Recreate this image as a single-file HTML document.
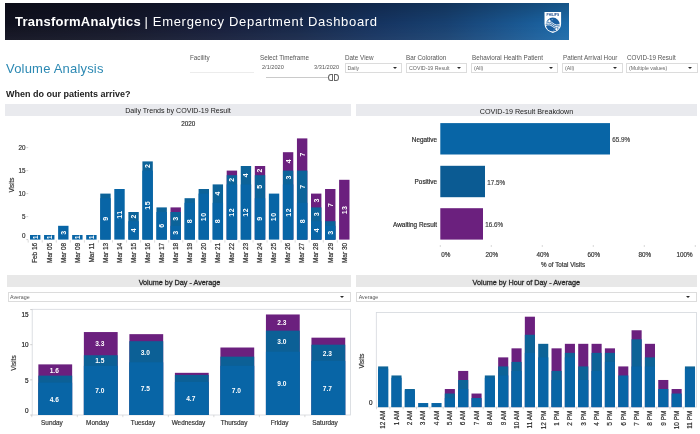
<!DOCTYPE html><html><head><meta charset="utf-8"><title>Emergency Department Dashboard</title><style>
html,body{margin:0;padding:0;background:#fff}
body{width:700px;height:434px;position:relative;overflow:hidden;font-family:"Liberation Sans", sans-serif}
.t{position:absolute;white-space:nowrap}
.bar{position:absolute;background:#e9eaee}
.dd{position:absolute;box-sizing:border-box;border:1px solid #dcdcdc;background:#fff}
.dd i{position:absolute;right:4.3px;top:3.3px;width:0;height:0;border-left:2.1px solid transparent;border-right:2.1px solid transparent;border-top:2.8px solid #2a2a2a}
svg{position:absolute;left:0;top:0}
svg text{font-family:"Liberation Sans", sans-serif}
#root{position:absolute;left:0;top:0;width:700px;height:434px;will-change:transform;transform:translateZ(0)}
</style></head><body><div id="root">
<div style="position:absolute;left:5px;top:3.2px;width:564.3px;height:37.2px;background:linear-gradient(180deg,rgba(0,0,0,.2) 0%,rgba(0,0,0,0) 55%,rgba(255,255,255,.05) 100%),linear-gradient(90deg,#0f101e 0%,#131628 20%,#151d3a 38%,#162749 52%,#153360 66%,#174070 78%,#19528a 88%,#1a5f9c 95%,#1b6aa9 100%)"></div>
<div class="t" style="left:15.00px;top:15.00px;font-size:13px;line-height:13px;color:#fff;font-weight:bold;letter-spacing:0.25px;">TransformAnalytics</div>
<div class="t" style="left:144.50px;top:15.00px;font-size:13px;line-height:13px;color:#fff;font-weight:normal;letter-spacing:0.68px;">| Emergency Department Dashboard</div>
<svg width="700" height="434" viewBox="0 0 700 434" style="pointer-events:none"><g transform="translate(-0.3 0.5)">
<path d="M544.8 11.5h16.6v11.6c0 5-3.5 8-8.3 9.4c-4.8-1.4-8.3-4.4-8.3-9.4z" fill="#fff"/>
<circle cx="553.1" cy="24.1" r="7" fill="#1a5fa2"/>
<path d="M546.2 23.1c2.3-1.7 4.5-1.7 6.9-0.3s4.6 1.4 6.9-0.3M546.2 24.7c2.3-1.7 4.5-1.7 6.9-0.3s4.6 1.4 6.9-0.3M546.2 26.3c2.3-1.7 4.5-1.7 6.9-0.3s4.6 1.4 6.9-0.3" stroke="#fff" stroke-width="0.85" fill="none" transform="rotate(10 553.1 24.4)"/>
<path d="M549.7 18.5L550.2320000000001 19.868L551.6 20.4L550.2320000000001 20.932L549.7 22.299999999999997L549.168 20.932L547.8000000000001 20.4L549.168 19.868z" fill="#fff"/>
<path d="M556.7 26.8L557.2320000000001 28.168L558.6 28.7L557.2320000000001 29.232L556.7 30.599999999999998L556.168 29.232L554.8000000000001 28.7L556.168 28.168z" fill="#fff"/>
<circle cx="552.4" cy="19.3" r="0.45" fill="#fff"/><circle cx="554.2" cy="29.6" r="0.45" fill="#fff"/>
<text x="553.1" y="15.7" font-size="3.4" font-weight="bold" fill="#17488c" text-anchor="middle" textLength="12.6" lengthAdjust="spacingAndGlyphs">PHILIPS</text>
</g></svg>
<div class="t" style="left:6.00px;top:61.50px;font-size:13px;line-height:13px;color:#2c89b3;font-weight:normal;letter-spacing:0.2px;">Volume Analysis</div>
<div class="t" style="left:6.00px;top:89.88px;font-size:9px;line-height:9px;color:#222;font-weight:bold;letter-spacing:0px;">When do our patients arrive?</div>
<div class="t" style="left:190.00px;top:55.07px;font-size:6.3px;line-height:6.3px;color:#555;font-weight:normal;letter-spacing:0px;">Facility</div>
<div style="position:absolute;left:190px;top:72.3px;width:64px;height:1px;background:#ececec"></div>
<div class="t" style="left:260.00px;top:55.07px;font-size:6.3px;line-height:6.3px;color:#555;font-weight:normal;letter-spacing:0px;">Select Timeframe</div>
<div class="t" style="left:262.00px;top:64.56px;font-size:5.6px;line-height:5.6px;color:#555;font-weight:normal;letter-spacing:0px;">2/1/2020</div>
<div class="t" style="left:-61.00px;width:400px;text-align:right;top:64.56px;font-size:5.6px;line-height:5.6px;color:#555;font-weight:normal;letter-spacing:0px;">3/31/2020</div>
<div style="position:absolute;left:266px;top:77px;width:62px;height:1px;background:#cacaca"></div>
<div style="position:absolute;left:327.6px;top:73.9px;width:5.4px;height:6.8px;border:0.8px solid #666;border-radius:60% 0 0 60%;box-sizing:border-box;background:#fff"></div>
<div style="position:absolute;left:333.8px;top:73.9px;width:5.4px;height:6.8px;border:0.8px solid #666;border-radius:0 60% 60% 0;box-sizing:border-box;background:#fff"></div>
<div class="t" style="left:345.00px;top:55.07px;font-size:6.3px;line-height:6.3px;color:#555;font-weight:normal;letter-spacing:0px;">Date View</div>
<div class="dd" style="left:344.7px;top:62.6px;width:57.6px;height:10.6px"><i></i></div>
<div class="t" style="left:347.50px;top:65.56px;font-size:5.25px;line-height:5.25px;color:#666;font-weight:normal;letter-spacing:0px;">Daily</div>
<div class="t" style="left:406.00px;top:55.07px;font-size:6.3px;line-height:6.3px;color:#555;font-weight:normal;letter-spacing:0px;">Bar Coloration</div>
<div class="dd" style="left:406.2px;top:62.6px;width:60.6px;height:10.6px"><i></i></div>
<div class="t" style="left:409.00px;top:65.56px;font-size:5.25px;line-height:5.25px;color:#666;font-weight:normal;letter-spacing:0px;">COVID-19 Result</div>
<div class="t" style="left:472.00px;top:55.07px;font-size:6.3px;line-height:6.3px;color:#555;font-weight:normal;letter-spacing:0px;">Behavioral Health Patient</div>
<div class="dd" style="left:471.2px;top:62.6px;width:87.1px;height:10.6px"><i></i></div>
<div class="t" style="left:474.00px;top:65.56px;font-size:5.25px;line-height:5.25px;color:#666;font-weight:normal;letter-spacing:0px;">(All)</div>
<div class="t" style="left:563.00px;top:55.07px;font-size:6.3px;line-height:6.3px;color:#555;font-weight:normal;letter-spacing:0px;">Patient Arrival Hour</div>
<div class="dd" style="left:562.2px;top:62.6px;width:60.6px;height:10.6px"><i></i></div>
<div class="t" style="left:565.00px;top:65.56px;font-size:5.25px;line-height:5.25px;color:#666;font-weight:normal;letter-spacing:0px;">(All)</div>
<div class="t" style="left:627.00px;top:55.07px;font-size:6.3px;line-height:6.3px;color:#555;font-weight:normal;letter-spacing:0px;">COVID-19 Result</div>
<div class="dd" style="left:626.2px;top:62.6px;width:71.6px;height:10.6px"><i></i></div>
<div class="t" style="left:629.00px;top:65.56px;font-size:5.25px;line-height:5.25px;color:#666;font-weight:normal;letter-spacing:0px;">(Multiple values)</div>
<div class="bar" style="left:5px;top:104px;width:346px;height:12px"></div>
<div class="bar" style="left:355.6px;top:104px;width:341.4px;height:12px"></div>
<div class="bar" style="left:7.3px;top:275px;width:343.7px;height:12.2px;background:#e8e8e8"></div>
<div class="bar" style="left:355.7px;top:275px;width:341.6px;height:12.2px;background:#e8e8e8"></div>
<div class="t" style="left:-22.00px;width:400px;text-align:center;top:107.99px;font-size:7.1px;line-height:7.1px;color:#222;font-weight:normal;letter-spacing:0px;">Daily Trends by COVID-19 Result</div>
<div class="t" style="left:326.50px;width:400px;text-align:center;top:107.91px;font-size:7.2px;line-height:7.2px;color:#222;font-weight:normal;letter-spacing:0px;">COVID-19 Result Breakdown</div>
<div class="t" style="left:-20.50px;width:400px;text-align:center;top:278.86px;font-size:7.25px;line-height:7.25px;color:#2a2a2a;font-weight:normal;letter-spacing:0px;-webkit-text-stroke:0.3px #2a2a2a;">Volume by Day - Average</div>
<div class="t" style="left:326.30px;width:400px;text-align:center;top:278.86px;font-size:7.25px;line-height:7.25px;color:#2a2a2a;font-weight:normal;letter-spacing:0px;-webkit-text-stroke:0.3px #2a2a2a;">Volume by Hour of Day - Average</div>
<div class="dd" style="left:7.5px;top:292px;width:343.3px;height:10.4px"><i style="right:5.6px"></i></div>
<div class="dd" style="left:356.2px;top:292px;width:340.6px;height:10.4px"><i style="right:5.3px"></i></div>
<div class="t" style="left:10.00px;top:294.71px;font-size:5.3px;line-height:5.3px;color:#555;font-weight:normal;letter-spacing:0px;">Average</div>
<div class="t" style="left:358.70px;top:294.71px;font-size:5.3px;line-height:5.3px;color:#555;font-weight:normal;letter-spacing:0px;">Average</div>
<svg width="700" height="434" viewBox="0 0 700 434">
<text x="188.30" y="125.60" font-size="6.3" fill="#333" stroke="#333" stroke-width="0.18" text-anchor="middle" font-weight="normal">2020</text>
<text x="25.60" y="238.00" font-size="6.3" fill="#333" stroke="#333" stroke-width="0.18" text-anchor="end" font-weight="normal">0</text>
<line x1="26.40" y1="239.60" x2="28.20" y2="239.60" stroke="#bbb" stroke-width="0.7"/>
<text x="25.60" y="218.80" font-size="6.3" fill="#333" stroke="#333" stroke-width="0.18" text-anchor="end" font-weight="normal">5</text>
<line x1="26.40" y1="216.60" x2="28.20" y2="216.60" stroke="#bbb" stroke-width="0.7"/>
<text x="25.60" y="195.80" font-size="6.3" fill="#333" stroke="#333" stroke-width="0.18" text-anchor="end" font-weight="normal">10</text>
<line x1="26.40" y1="193.60" x2="28.20" y2="193.60" stroke="#bbb" stroke-width="0.7"/>
<text x="25.60" y="172.80" font-size="6.3" fill="#333" stroke="#333" stroke-width="0.18" text-anchor="end" font-weight="normal">15</text>
<line x1="26.40" y1="170.60" x2="28.20" y2="170.60" stroke="#bbb" stroke-width="0.7"/>
<text x="25.60" y="149.80" font-size="6.3" fill="#333" stroke="#333" stroke-width="0.18" text-anchor="end" font-weight="normal">20</text>
<line x1="26.40" y1="147.60" x2="28.20" y2="147.60" stroke="#bbb" stroke-width="0.7"/>
<text x="13.60" y="185.00" font-size="6.3" fill="#333" stroke="#333" stroke-width="0.18" text-anchor="middle" font-weight="normal" transform="rotate(-90 13.60 185.00)">Visits</text>
<rect x="30.00" y="235.00" width="10.40" height="4.60" fill="#0865a6"/>
<text x="37.65" y="237.30" font-size="7.0" fill="#fff" text-anchor="middle" font-weight="bold" transform="rotate(-90 37.65 237.30)">1</text>
<line x1="28.20" y1="240.20" x2="28.20" y2="242.60" stroke="#ccc" stroke-width="0.7"/>
<text x="37.50" y="242.80" font-size="6.5" fill="#2a2a2a" stroke="#2a2a2a" stroke-width="0.18" text-anchor="end" font-weight="normal" transform="rotate(-90 37.50 242.80)">Feb 16</text>
<rect x="44.05" y="235.00" width="10.40" height="4.60" fill="#0865a6"/>
<text x="51.70" y="237.30" font-size="7.0" fill="#fff" text-anchor="middle" font-weight="bold" transform="rotate(-90 51.70 237.30)">1</text>
<line x1="42.25" y1="240.20" x2="42.25" y2="242.60" stroke="#ccc" stroke-width="0.7"/>
<text x="51.55" y="242.80" font-size="6.5" fill="#2a2a2a" stroke="#2a2a2a" stroke-width="0.18" text-anchor="end" font-weight="normal" transform="rotate(-90 51.55 242.80)">Mar 05</text>
<rect x="58.10" y="225.80" width="10.40" height="13.80" fill="#0865a6"/>
<text x="65.75" y="232.70" font-size="7.0" fill="#fff" text-anchor="middle" font-weight="bold" transform="rotate(-90 65.75 232.70)">3</text>
<line x1="56.30" y1="240.20" x2="56.30" y2="242.60" stroke="#ccc" stroke-width="0.7"/>
<text x="65.60" y="242.80" font-size="6.5" fill="#2a2a2a" stroke="#2a2a2a" stroke-width="0.18" text-anchor="end" font-weight="normal" transform="rotate(-90 65.60 242.80)">Mar 08</text>
<rect x="72.15" y="235.00" width="10.40" height="4.60" fill="#0865a6"/>
<text x="79.80" y="237.30" font-size="7.0" fill="#fff" text-anchor="middle" font-weight="bold" transform="rotate(-90 79.80 237.30)">1</text>
<line x1="70.35" y1="240.20" x2="70.35" y2="242.60" stroke="#ccc" stroke-width="0.7"/>
<text x="79.65" y="242.80" font-size="6.5" fill="#2a2a2a" stroke="#2a2a2a" stroke-width="0.18" text-anchor="end" font-weight="normal" transform="rotate(-90 79.65 242.80)">Mar 09</text>
<rect x="86.20" y="235.00" width="10.40" height="4.60" fill="#0865a6"/>
<text x="93.85" y="237.30" font-size="7.0" fill="#fff" text-anchor="middle" font-weight="bold" transform="rotate(-90 93.85 237.30)">1</text>
<line x1="84.40" y1="240.20" x2="84.40" y2="242.60" stroke="#ccc" stroke-width="0.7"/>
<text x="93.70" y="242.80" font-size="6.5" fill="#2a2a2a" stroke="#2a2a2a" stroke-width="0.18" text-anchor="end" font-weight="normal" transform="rotate(-90 93.70 242.80)">Mar 11</text>
<rect x="100.25" y="193.60" width="10.40" height="46.00" fill="#0c6399"/>
<rect x="100.25" y="198.20" width="10.40" height="41.40" fill="#0865a6"/>
<text x="107.90" y="218.90" font-size="7.0" fill="#fff" text-anchor="middle" font-weight="bold" transform="rotate(-90 107.90 218.90)">9</text>
<line x1="98.45" y1="240.20" x2="98.45" y2="242.60" stroke="#ccc" stroke-width="0.7"/>
<text x="107.75" y="242.80" font-size="6.5" fill="#2a2a2a" stroke="#2a2a2a" stroke-width="0.18" text-anchor="end" font-weight="normal" transform="rotate(-90 107.75 242.80)">Mar 13</text>
<rect x="114.30" y="189.00" width="10.40" height="50.60" fill="#0865a6"/>
<text x="121.95" y="214.55" font-size="7.0" fill="#fff" letter-spacing="0.5" text-anchor="middle" font-weight="bold" transform="rotate(-90 121.95 214.55)">11</text>
<line x1="112.50" y1="240.20" x2="112.50" y2="242.60" stroke="#ccc" stroke-width="0.7"/>
<text x="121.80" y="242.80" font-size="6.5" fill="#2a2a2a" stroke="#2a2a2a" stroke-width="0.18" text-anchor="end" font-weight="normal" transform="rotate(-90 121.80 242.80)">Mar 14</text>
<rect x="128.35" y="212.00" width="10.40" height="27.60" fill="#0c6399"/>
<rect x="128.35" y="221.20" width="10.40" height="18.40" fill="#0865a6"/>
<text x="136.00" y="230.40" font-size="7.0" fill="#fff" text-anchor="middle" font-weight="bold" transform="rotate(-90 136.00 230.40)">4</text>
<text x="136.00" y="216.60" font-size="7.0" fill="#fff" text-anchor="middle" font-weight="bold" transform="rotate(-90 136.00 216.60)">2</text>
<line x1="126.55" y1="240.20" x2="126.55" y2="242.60" stroke="#ccc" stroke-width="0.7"/>
<text x="135.85" y="242.80" font-size="6.5" fill="#2a2a2a" stroke="#2a2a2a" stroke-width="0.18" text-anchor="end" font-weight="normal" transform="rotate(-90 135.85 242.80)">Mar 15</text>
<rect x="142.40" y="161.40" width="10.40" height="78.20" fill="#0c6399"/>
<rect x="142.40" y="170.60" width="10.40" height="69.00" fill="#0865a6"/>
<text x="150.05" y="205.35" font-size="7.0" fill="#fff" letter-spacing="0.5" text-anchor="middle" font-weight="bold" transform="rotate(-90 150.05 205.35)">15</text>
<text x="150.05" y="166.00" font-size="7.0" fill="#fff" text-anchor="middle" font-weight="bold" transform="rotate(-90 150.05 166.00)">2</text>
<line x1="140.60" y1="240.20" x2="140.60" y2="242.60" stroke="#ccc" stroke-width="0.7"/>
<text x="149.90" y="242.80" font-size="6.5" fill="#2a2a2a" stroke="#2a2a2a" stroke-width="0.18" text-anchor="end" font-weight="normal" transform="rotate(-90 149.90 242.80)">Mar 16</text>
<rect x="156.45" y="207.40" width="10.40" height="32.20" fill="#0c6399"/>
<rect x="156.45" y="212.00" width="10.40" height="27.60" fill="#0865a6"/>
<text x="164.10" y="225.80" font-size="7.0" fill="#fff" text-anchor="middle" font-weight="bold" transform="rotate(-90 164.10 225.80)">6</text>
<line x1="154.65" y1="240.20" x2="154.65" y2="242.60" stroke="#ccc" stroke-width="0.7"/>
<text x="163.95" y="242.80" font-size="6.5" fill="#2a2a2a" stroke="#2a2a2a" stroke-width="0.18" text-anchor="end" font-weight="normal" transform="rotate(-90 163.95 242.80)">Mar 17</text>
<rect x="170.50" y="207.40" width="10.40" height="32.20" fill="#6b207e"/>
<rect x="170.50" y="212.00" width="10.40" height="27.60" fill="#0c6399"/>
<rect x="170.50" y="225.80" width="10.40" height="13.80" fill="#0865a6"/>
<text x="178.15" y="232.70" font-size="7.0" fill="#fff" text-anchor="middle" font-weight="bold" transform="rotate(-90 178.15 232.70)">3</text>
<text x="178.15" y="218.90" font-size="7.0" fill="#fff" text-anchor="middle" font-weight="bold" transform="rotate(-90 178.15 218.90)">3</text>
<line x1="168.70" y1="240.20" x2="168.70" y2="242.60" stroke="#ccc" stroke-width="0.7"/>
<text x="178.00" y="242.80" font-size="6.5" fill="#2a2a2a" stroke="#2a2a2a" stroke-width="0.18" text-anchor="end" font-weight="normal" transform="rotate(-90 178.00 242.80)">Mar 18</text>
<rect x="184.55" y="198.20" width="10.40" height="41.40" fill="#0c6399"/>
<rect x="184.55" y="202.80" width="10.40" height="36.80" fill="#0865a6"/>
<text x="192.20" y="221.20" font-size="7.0" fill="#fff" text-anchor="middle" font-weight="bold" transform="rotate(-90 192.20 221.20)">8</text>
<line x1="182.75" y1="240.20" x2="182.75" y2="242.60" stroke="#ccc" stroke-width="0.7"/>
<text x="192.05" y="242.80" font-size="6.5" fill="#2a2a2a" stroke="#2a2a2a" stroke-width="0.18" text-anchor="end" font-weight="normal" transform="rotate(-90 192.05 242.80)">Mar 19</text>
<rect x="198.60" y="189.00" width="10.40" height="50.60" fill="#0c6399"/>
<rect x="198.60" y="193.60" width="10.40" height="46.00" fill="#0865a6"/>
<text x="206.25" y="216.85" font-size="7.0" fill="#fff" letter-spacing="0.5" text-anchor="middle" font-weight="bold" transform="rotate(-90 206.25 216.85)">10</text>
<line x1="196.80" y1="240.20" x2="196.80" y2="242.60" stroke="#ccc" stroke-width="0.7"/>
<text x="206.10" y="242.80" font-size="6.5" fill="#2a2a2a" stroke="#2a2a2a" stroke-width="0.18" text-anchor="end" font-weight="normal" transform="rotate(-90 206.10 242.80)">Mar 20</text>
<rect x="212.65" y="184.40" width="10.40" height="55.20" fill="#0c6399"/>
<rect x="212.65" y="202.80" width="10.40" height="36.80" fill="#0865a6"/>
<text x="220.30" y="221.20" font-size="7.0" fill="#fff" text-anchor="middle" font-weight="bold" transform="rotate(-90 220.30 221.20)">8</text>
<text x="220.30" y="193.60" font-size="7.0" fill="#fff" text-anchor="middle" font-weight="bold" transform="rotate(-90 220.30 193.60)">4</text>
<line x1="210.85" y1="240.20" x2="210.85" y2="242.60" stroke="#ccc" stroke-width="0.7"/>
<text x="220.15" y="242.80" font-size="6.5" fill="#2a2a2a" stroke="#2a2a2a" stroke-width="0.18" text-anchor="end" font-weight="normal" transform="rotate(-90 220.15 242.80)">Mar 21</text>
<rect x="226.70" y="170.60" width="10.40" height="69.00" fill="#6b207e"/>
<rect x="226.70" y="175.20" width="10.40" height="64.40" fill="#0c6399"/>
<rect x="226.70" y="184.40" width="10.40" height="55.20" fill="#0865a6"/>
<text x="234.35" y="212.25" font-size="7.0" fill="#fff" letter-spacing="0.5" text-anchor="middle" font-weight="bold" transform="rotate(-90 234.35 212.25)">12</text>
<text x="234.35" y="179.80" font-size="7.0" fill="#fff" text-anchor="middle" font-weight="bold" transform="rotate(-90 234.35 179.80)">2</text>
<line x1="224.90" y1="240.20" x2="224.90" y2="242.60" stroke="#ccc" stroke-width="0.7"/>
<text x="234.20" y="242.80" font-size="6.5" fill="#2a2a2a" stroke="#2a2a2a" stroke-width="0.18" text-anchor="end" font-weight="normal" transform="rotate(-90 234.20 242.80)">Mar 22</text>
<rect x="240.75" y="166.00" width="10.40" height="73.60" fill="#0c6399"/>
<rect x="240.75" y="184.40" width="10.40" height="55.20" fill="#0865a6"/>
<text x="248.40" y="212.25" font-size="7.0" fill="#fff" letter-spacing="0.5" text-anchor="middle" font-weight="bold" transform="rotate(-90 248.40 212.25)">12</text>
<text x="248.40" y="175.20" font-size="7.0" fill="#fff" text-anchor="middle" font-weight="bold" transform="rotate(-90 248.40 175.20)">4</text>
<line x1="238.95" y1="240.20" x2="238.95" y2="242.60" stroke="#ccc" stroke-width="0.7"/>
<text x="248.25" y="242.80" font-size="6.5" fill="#2a2a2a" stroke="#2a2a2a" stroke-width="0.18" text-anchor="end" font-weight="normal" transform="rotate(-90 248.25 242.80)">Mar 23</text>
<rect x="254.80" y="166.00" width="10.40" height="73.60" fill="#6b207e"/>
<rect x="254.80" y="175.20" width="10.40" height="64.40" fill="#0c6399"/>
<rect x="254.80" y="198.20" width="10.40" height="41.40" fill="#0865a6"/>
<text x="262.45" y="218.90" font-size="7.0" fill="#fff" text-anchor="middle" font-weight="bold" transform="rotate(-90 262.45 218.90)">9</text>
<text x="262.45" y="186.70" font-size="7.0" fill="#fff" text-anchor="middle" font-weight="bold" transform="rotate(-90 262.45 186.70)">5</text>
<text x="262.45" y="170.60" font-size="7.0" fill="#fff" text-anchor="middle" font-weight="bold" transform="rotate(-90 262.45 170.60)">2</text>
<line x1="253.00" y1="240.20" x2="253.00" y2="242.60" stroke="#ccc" stroke-width="0.7"/>
<text x="262.30" y="242.80" font-size="6.5" fill="#2a2a2a" stroke="#2a2a2a" stroke-width="0.18" text-anchor="end" font-weight="normal" transform="rotate(-90 262.30 242.80)">Mar 24</text>
<rect x="268.85" y="193.60" width="10.40" height="46.00" fill="#0865a6"/>
<text x="276.50" y="216.85" font-size="7.0" fill="#fff" letter-spacing="0.5" text-anchor="middle" font-weight="bold" transform="rotate(-90 276.50 216.85)">10</text>
<line x1="267.05" y1="240.20" x2="267.05" y2="242.60" stroke="#ccc" stroke-width="0.7"/>
<text x="276.35" y="242.80" font-size="6.5" fill="#2a2a2a" stroke="#2a2a2a" stroke-width="0.18" text-anchor="end" font-weight="normal" transform="rotate(-90 276.35 242.80)">Mar 25</text>
<rect x="282.90" y="152.20" width="10.40" height="87.40" fill="#6b207e"/>
<rect x="282.90" y="170.60" width="10.40" height="69.00" fill="#0c6399"/>
<rect x="282.90" y="184.40" width="10.40" height="55.20" fill="#0865a6"/>
<text x="290.55" y="212.25" font-size="7.0" fill="#fff" letter-spacing="0.5" text-anchor="middle" font-weight="bold" transform="rotate(-90 290.55 212.25)">12</text>
<text x="290.55" y="177.50" font-size="7.0" fill="#fff" text-anchor="middle" font-weight="bold" transform="rotate(-90 290.55 177.50)">3</text>
<text x="290.55" y="161.40" font-size="7.0" fill="#fff" text-anchor="middle" font-weight="bold" transform="rotate(-90 290.55 161.40)">4</text>
<line x1="281.10" y1="240.20" x2="281.10" y2="242.60" stroke="#ccc" stroke-width="0.7"/>
<text x="290.40" y="242.80" font-size="6.5" fill="#2a2a2a" stroke="#2a2a2a" stroke-width="0.18" text-anchor="end" font-weight="normal" transform="rotate(-90 290.40 242.80)">Mar 26</text>
<rect x="296.95" y="138.40" width="10.40" height="101.20" fill="#6b207e"/>
<rect x="296.95" y="170.60" width="10.40" height="69.00" fill="#0c6399"/>
<rect x="296.95" y="202.80" width="10.40" height="36.80" fill="#0865a6"/>
<text x="304.60" y="221.20" font-size="7.0" fill="#fff" text-anchor="middle" font-weight="bold" transform="rotate(-90 304.60 221.20)">8</text>
<text x="304.60" y="186.70" font-size="7.0" fill="#fff" text-anchor="middle" font-weight="bold" transform="rotate(-90 304.60 186.70)">7</text>
<text x="304.60" y="154.50" font-size="7.0" fill="#fff" text-anchor="middle" font-weight="bold" transform="rotate(-90 304.60 154.50)">7</text>
<line x1="295.15" y1="240.20" x2="295.15" y2="242.60" stroke="#ccc" stroke-width="0.7"/>
<text x="304.45" y="242.80" font-size="6.5" fill="#2a2a2a" stroke="#2a2a2a" stroke-width="0.18" text-anchor="end" font-weight="normal" transform="rotate(-90 304.45 242.80)">Mar 27</text>
<rect x="311.00" y="193.60" width="10.40" height="46.00" fill="#6b207e"/>
<rect x="311.00" y="207.40" width="10.40" height="32.20" fill="#0c6399"/>
<rect x="311.00" y="221.20" width="10.40" height="18.40" fill="#0865a6"/>
<text x="318.65" y="230.40" font-size="7.0" fill="#fff" text-anchor="middle" font-weight="bold" transform="rotate(-90 318.65 230.40)">4</text>
<text x="318.65" y="214.30" font-size="7.0" fill="#fff" text-anchor="middle" font-weight="bold" transform="rotate(-90 318.65 214.30)">3</text>
<text x="318.65" y="200.50" font-size="7.0" fill="#fff" text-anchor="middle" font-weight="bold" transform="rotate(-90 318.65 200.50)">3</text>
<line x1="309.20" y1="240.20" x2="309.20" y2="242.60" stroke="#ccc" stroke-width="0.7"/>
<text x="318.50" y="242.80" font-size="6.5" fill="#2a2a2a" stroke="#2a2a2a" stroke-width="0.18" text-anchor="end" font-weight="normal" transform="rotate(-90 318.50 242.80)">Mar 28</text>
<rect x="325.05" y="189.00" width="10.40" height="50.60" fill="#6b207e"/>
<rect x="325.05" y="221.20" width="10.40" height="18.40" fill="#0c6399"/>
<rect x="325.05" y="225.80" width="10.40" height="13.80" fill="#0865a6"/>
<text x="332.70" y="232.70" font-size="7.0" fill="#fff" text-anchor="middle" font-weight="bold" transform="rotate(-90 332.70 232.70)">3</text>
<text x="332.70" y="205.10" font-size="7.0" fill="#fff" text-anchor="middle" font-weight="bold" transform="rotate(-90 332.70 205.10)">7</text>
<line x1="323.25" y1="240.20" x2="323.25" y2="242.60" stroke="#ccc" stroke-width="0.7"/>
<text x="332.55" y="242.80" font-size="6.5" fill="#2a2a2a" stroke="#2a2a2a" stroke-width="0.18" text-anchor="end" font-weight="normal" transform="rotate(-90 332.55 242.80)">Mar 29</text>
<rect x="339.10" y="179.80" width="10.40" height="59.80" fill="#6b207e"/>
<text x="346.75" y="209.95" font-size="7.0" fill="#fff" letter-spacing="0.5" text-anchor="middle" font-weight="bold" transform="rotate(-90 346.75 209.95)">13</text>
<line x1="337.30" y1="240.20" x2="337.30" y2="242.60" stroke="#ccc" stroke-width="0.7"/>
<text x="346.60" y="242.80" font-size="6.5" fill="#2a2a2a" stroke="#2a2a2a" stroke-width="0.18" text-anchor="end" font-weight="normal" transform="rotate(-90 346.60 242.80)">Mar 30</text>
<rect x="440.30" y="123.10" width="169.70" height="31.40" fill="#0865a6"/>
<text x="437.00" y="141.70" font-size="6.4" fill="#2a2a2a" stroke="#2a2a2a" stroke-width="0.18" text-anchor="end" font-weight="normal">Negative</text>
<text x="612.30" y="142.10" font-size="6.3" fill="#444" stroke="#444" stroke-width="0.18" text-anchor="start" font-weight="normal">65.9%</text>
<rect x="440.30" y="165.80" width="44.70" height="31.40" fill="#0b5b93"/>
<text x="437.00" y="184.40" font-size="6.4" fill="#2a2a2a" stroke="#2a2a2a" stroke-width="0.18" text-anchor="end" font-weight="normal">Positive</text>
<text x="487.30" y="184.80" font-size="6.3" fill="#444" stroke="#444" stroke-width="0.18" text-anchor="start" font-weight="normal">17.5%</text>
<rect x="440.30" y="208.20" width="42.70" height="31.40" fill="#6b207e"/>
<text x="437.00" y="226.80" font-size="6.4" fill="#2a2a2a" stroke="#2a2a2a" stroke-width="0.18" text-anchor="end" font-weight="normal">Awaiting Result</text>
<text x="485.30" y="227.20" font-size="6.3" fill="#444" stroke="#444" stroke-width="0.18" text-anchor="start" font-weight="normal">16.6%</text>
<line x1="440.30" y1="245.20" x2="440.30" y2="246.80" stroke="#bbb" stroke-width="0.7"/>
<text x="441.20" y="256.50" font-size="6.3" fill="#333" stroke="#333" stroke-width="0.18" text-anchor="start" font-weight="normal">0%</text>
<line x1="491.30" y1="245.20" x2="491.30" y2="246.80" stroke="#bbb" stroke-width="0.7"/>
<text x="491.80" y="256.50" font-size="6.3" fill="#333" stroke="#333" stroke-width="0.18" text-anchor="middle" font-weight="normal">20%</text>
<line x1="542.30" y1="245.20" x2="542.30" y2="246.80" stroke="#bbb" stroke-width="0.7"/>
<text x="542.80" y="256.50" font-size="6.3" fill="#333" stroke="#333" stroke-width="0.18" text-anchor="middle" font-weight="normal">40%</text>
<line x1="593.30" y1="245.20" x2="593.30" y2="246.80" stroke="#bbb" stroke-width="0.7"/>
<text x="593.80" y="256.50" font-size="6.3" fill="#333" stroke="#333" stroke-width="0.18" text-anchor="middle" font-weight="normal">60%</text>
<line x1="644.30" y1="245.20" x2="644.30" y2="246.80" stroke="#bbb" stroke-width="0.7"/>
<text x="644.80" y="256.50" font-size="6.3" fill="#333" stroke="#333" stroke-width="0.18" text-anchor="middle" font-weight="normal">80%</text>
<line x1="695.30" y1="245.20" x2="695.30" y2="246.80" stroke="#bbb" stroke-width="0.7"/>
<text x="692.50" y="256.50" font-size="6.3" fill="#333" stroke="#333" stroke-width="0.18" text-anchor="end" font-weight="normal">100%</text>
<text x="563.00" y="266.70" font-size="6.3" fill="#333" stroke="#333" stroke-width="0.18" text-anchor="middle" font-weight="normal">% of Total Visits</text>
<rect x="32.2" y="309.3" width="318.2" height="105.69999999999999" fill="none" stroke="#d4d8dd" stroke-width="0.8"/>
<rect x="38.36" y="364.38" width="33.80" height="50.62" fill="#6b207e"/>
<rect x="38.36" y="375.63" width="33.80" height="39.37" fill="#0c6096"/>
<rect x="38.36" y="382.66" width="33.80" height="32.34" fill="#0865a6"/>
<text x="54.26" y="401.63" font-size="6.6" fill="#fff" text-anchor="middle" font-weight="bold">4.6</text>
<text x="54.26" y="372.81" font-size="6.6" fill="#fff" text-anchor="middle" font-weight="bold">1.6</text>
<text x="51.96" y="424.80" font-size="6.4" fill="#333" stroke="#333" stroke-width="0.18" text-anchor="middle" font-weight="normal">Sunday</text>
<line x1="31.80" y1="415.00" x2="31.80" y2="417.20" stroke="#ccc" stroke-width="0.7"/>
<rect x="83.87" y="332.05" width="33.80" height="82.95" fill="#6b207e"/>
<rect x="83.87" y="355.25" width="33.80" height="59.76" fill="#0c6096"/>
<rect x="83.87" y="365.79" width="33.80" height="49.21" fill="#0865a6"/>
<text x="99.77" y="393.19" font-size="6.6" fill="#fff" text-anchor="middle" font-weight="bold">7.0</text>
<text x="99.77" y="363.32" font-size="6.6" fill="#fff" text-anchor="middle" font-weight="bold">1.5</text>
<text x="99.77" y="346.45" font-size="6.6" fill="#fff" text-anchor="middle" font-weight="bold">3.3</text>
<text x="97.47" y="424.80" font-size="6.4" fill="#333" stroke="#333" stroke-width="0.18" text-anchor="middle" font-weight="normal">Monday</text>
<line x1="77.31" y1="415.00" x2="77.31" y2="417.20" stroke="#ccc" stroke-width="0.7"/>
<rect x="129.39" y="334.15" width="33.80" height="80.84" fill="#6b207e"/>
<rect x="129.39" y="341.19" width="33.80" height="73.81" fill="#0c6096"/>
<rect x="129.39" y="362.27" width="33.80" height="52.73" fill="#0865a6"/>
<text x="145.29" y="391.44" font-size="6.6" fill="#fff" text-anchor="middle" font-weight="bold">7.5</text>
<text x="145.29" y="354.53" font-size="6.6" fill="#fff" text-anchor="middle" font-weight="bold">3.0</text>
<text x="142.99" y="424.80" font-size="6.4" fill="#333" stroke="#333" stroke-width="0.18" text-anchor="middle" font-weight="normal">Tuesday</text>
<line x1="122.83" y1="415.00" x2="122.83" y2="417.20" stroke="#ccc" stroke-width="0.7"/>
<rect x="174.90" y="372.82" width="33.80" height="42.18" fill="#6b207e"/>
<rect x="174.90" y="374.93" width="33.80" height="40.07" fill="#0c6096"/>
<rect x="174.90" y="381.96" width="33.80" height="33.04" fill="#0865a6"/>
<text x="190.80" y="401.28" font-size="6.6" fill="#fff" text-anchor="middle" font-weight="bold">4.7</text>
<text x="188.50" y="424.80" font-size="6.4" fill="#333" stroke="#333" stroke-width="0.18" text-anchor="middle" font-weight="normal">Wednesday</text>
<line x1="168.34" y1="415.00" x2="168.34" y2="417.20" stroke="#ccc" stroke-width="0.7"/>
<rect x="220.41" y="347.51" width="33.80" height="67.49" fill="#6b207e"/>
<rect x="220.41" y="356.65" width="33.80" height="58.35" fill="#0c6096"/>
<rect x="220.41" y="365.79" width="33.80" height="49.21" fill="#0865a6"/>
<text x="236.31" y="393.19" font-size="6.6" fill="#fff" text-anchor="middle" font-weight="bold">7.0</text>
<text x="234.01" y="424.80" font-size="6.4" fill="#333" stroke="#333" stroke-width="0.18" text-anchor="middle" font-weight="normal">Thursday</text>
<line x1="213.86" y1="415.00" x2="213.86" y2="417.20" stroke="#ccc" stroke-width="0.7"/>
<rect x="265.93" y="314.47" width="33.80" height="100.53" fill="#6b207e"/>
<rect x="265.93" y="330.64" width="33.80" height="84.36" fill="#0c6096"/>
<rect x="265.93" y="351.73" width="33.80" height="63.27" fill="#0865a6"/>
<text x="281.83" y="386.17" font-size="6.6" fill="#fff" text-anchor="middle" font-weight="bold">9.0</text>
<text x="281.83" y="343.99" font-size="6.6" fill="#fff" text-anchor="middle" font-weight="bold">3.0</text>
<text x="281.83" y="325.36" font-size="6.6" fill="#fff" text-anchor="middle" font-weight="bold">2.3</text>
<text x="279.53" y="424.80" font-size="6.4" fill="#333" stroke="#333" stroke-width="0.18" text-anchor="middle" font-weight="normal">Friday</text>
<line x1="259.37" y1="415.00" x2="259.37" y2="417.20" stroke="#ccc" stroke-width="0.7"/>
<rect x="311.44" y="337.67" width="33.80" height="77.33" fill="#6b207e"/>
<rect x="311.44" y="344.70" width="33.80" height="70.30" fill="#0c6096"/>
<rect x="311.44" y="360.87" width="33.80" height="54.13" fill="#0865a6"/>
<text x="327.34" y="390.73" font-size="6.6" fill="#fff" text-anchor="middle" font-weight="bold">7.7</text>
<text x="327.34" y="355.58" font-size="6.6" fill="#fff" text-anchor="middle" font-weight="bold">2.3</text>
<text x="325.04" y="424.80" font-size="6.4" fill="#333" stroke="#333" stroke-width="0.18" text-anchor="middle" font-weight="normal">Saturday</text>
<line x1="304.89" y1="415.00" x2="304.89" y2="417.20" stroke="#ccc" stroke-width="0.7"/>
<text x="28.60" y="413.20" font-size="6.4" fill="#222" stroke="#222" stroke-width="0.18" text-anchor="end" font-weight="normal">0</text>
<line x1="30.20" y1="415.00" x2="32.20" y2="415.00" stroke="#bbb" stroke-width="0.7"/>
<text x="28.60" y="382.50" font-size="6.4" fill="#222" stroke="#222" stroke-width="0.18" text-anchor="end" font-weight="normal">5</text>
<line x1="30.20" y1="379.85" x2="32.20" y2="379.85" stroke="#bbb" stroke-width="0.7"/>
<text x="28.60" y="347.00" font-size="6.4" fill="#222" stroke="#222" stroke-width="0.18" text-anchor="end" font-weight="normal">10</text>
<line x1="30.20" y1="344.70" x2="32.20" y2="344.70" stroke="#bbb" stroke-width="0.7"/>
<text x="28.60" y="316.70" font-size="6.4" fill="#222" stroke="#222" stroke-width="0.18" text-anchor="end" font-weight="normal">15</text>
<line x1="30.20" y1="309.55" x2="32.20" y2="309.55" stroke="#bbb" stroke-width="0.7"/>
<text x="16.00" y="363.00" font-size="6.6" fill="#333" stroke="#333" stroke-width="0.18" text-anchor="middle" font-weight="normal" transform="rotate(-90 16.00 363.00)">Visits</text>
<rect x="376.3" y="312.4" width="320.09999999999997" height="94.70000000000005" fill="none" stroke="#d4d8dd" stroke-width="0.8"/>
<rect x="378.10" y="366.42" width="10.10" height="40.68" fill="#0d6397"/>
<rect x="378.10" y="368.68" width="10.10" height="38.42" fill="#0865a6"/>
<text x="385.45" y="410.60" font-size="6.45" fill="#2a2a2a" stroke="#2a2a2a" stroke-width="0.18" text-anchor="end" font-weight="normal" transform="rotate(-90 385.45 410.60)">12 AM</text>
<line x1="376.50" y1="407.10" x2="376.50" y2="409.30" stroke="#ccc" stroke-width="0.7"/>
<rect x="391.44" y="375.46" width="10.10" height="31.64" fill="#0d6397"/>
<rect x="391.44" y="377.72" width="10.10" height="29.38" fill="#0865a6"/>
<text x="398.79" y="410.60" font-size="6.45" fill="#2a2a2a" stroke="#2a2a2a" stroke-width="0.18" text-anchor="end" font-weight="normal" transform="rotate(-90 398.79 410.60)">1 AM</text>
<line x1="389.84" y1="407.10" x2="389.84" y2="409.30" stroke="#ccc" stroke-width="0.7"/>
<rect x="404.78" y="389.02" width="10.10" height="18.08" fill="#0d6397"/>
<rect x="404.78" y="390.38" width="10.10" height="16.72" fill="#0865a6"/>
<text x="412.13" y="410.60" font-size="6.45" fill="#2a2a2a" stroke="#2a2a2a" stroke-width="0.18" text-anchor="end" font-weight="normal" transform="rotate(-90 412.13 410.60)">2 AM</text>
<line x1="403.18" y1="407.10" x2="403.18" y2="409.30" stroke="#ccc" stroke-width="0.7"/>
<rect x="418.12" y="403.03" width="10.10" height="4.07" fill="#0865a6"/>
<text x="425.47" y="410.60" font-size="6.45" fill="#2a2a2a" stroke="#2a2a2a" stroke-width="0.18" text-anchor="end" font-weight="normal" transform="rotate(-90 425.47 410.60)">3 AM</text>
<line x1="416.52" y1="407.10" x2="416.52" y2="409.30" stroke="#ccc" stroke-width="0.7"/>
<rect x="431.46" y="403.03" width="10.10" height="4.07" fill="#0865a6"/>
<text x="438.81" y="410.60" font-size="6.45" fill="#2a2a2a" stroke="#2a2a2a" stroke-width="0.18" text-anchor="end" font-weight="normal" transform="rotate(-90 438.81 410.60)">4 AM</text>
<line x1="429.86" y1="407.10" x2="429.86" y2="409.30" stroke="#ccc" stroke-width="0.7"/>
<rect x="444.80" y="389.02" width="10.10" height="18.08" fill="#6b207e"/>
<rect x="444.80" y="393.54" width="10.10" height="13.56" fill="#0d6397"/>
<rect x="444.80" y="398.06" width="10.10" height="9.04" fill="#0865a6"/>
<text x="452.15" y="410.60" font-size="6.45" fill="#2a2a2a" stroke="#2a2a2a" stroke-width="0.18" text-anchor="end" font-weight="normal" transform="rotate(-90 452.15 410.60)">5 AM</text>
<line x1="443.20" y1="407.10" x2="443.20" y2="409.30" stroke="#ccc" stroke-width="0.7"/>
<rect x="458.14" y="370.94" width="10.10" height="36.16" fill="#6b207e"/>
<rect x="458.14" y="379.98" width="10.10" height="27.12" fill="#0d6397"/>
<rect x="458.14" y="389.02" width="10.10" height="18.08" fill="#0865a6"/>
<text x="465.49" y="410.60" font-size="6.45" fill="#2a2a2a" stroke="#2a2a2a" stroke-width="0.18" text-anchor="end" font-weight="normal" transform="rotate(-90 465.49 410.60)">6 AM</text>
<line x1="456.54" y1="407.10" x2="456.54" y2="409.30" stroke="#ccc" stroke-width="0.7"/>
<rect x="471.48" y="393.54" width="10.10" height="13.56" fill="#6b207e"/>
<rect x="471.48" y="398.06" width="10.10" height="9.04" fill="#0865a6"/>
<text x="478.83" y="410.60" font-size="6.45" fill="#2a2a2a" stroke="#2a2a2a" stroke-width="0.18" text-anchor="end" font-weight="normal" transform="rotate(-90 478.83 410.60)">7 AM</text>
<line x1="469.88" y1="407.10" x2="469.88" y2="409.30" stroke="#ccc" stroke-width="0.7"/>
<rect x="484.82" y="375.46" width="10.10" height="31.64" fill="#0d6397"/>
<rect x="484.82" y="377.72" width="10.10" height="29.38" fill="#0865a6"/>
<text x="492.17" y="410.60" font-size="6.45" fill="#2a2a2a" stroke="#2a2a2a" stroke-width="0.18" text-anchor="end" font-weight="normal" transform="rotate(-90 492.17 410.60)">8 AM</text>
<line x1="483.22" y1="407.10" x2="483.22" y2="409.30" stroke="#ccc" stroke-width="0.7"/>
<rect x="498.16" y="357.38" width="10.10" height="49.72" fill="#6b207e"/>
<rect x="498.16" y="366.42" width="10.10" height="40.68" fill="#0d6397"/>
<rect x="498.16" y="375.46" width="10.10" height="31.64" fill="#0865a6"/>
<text x="505.51" y="410.60" font-size="6.45" fill="#2a2a2a" stroke="#2a2a2a" stroke-width="0.18" text-anchor="end" font-weight="normal" transform="rotate(-90 505.51 410.60)">9 AM</text>
<line x1="496.56" y1="407.10" x2="496.56" y2="409.30" stroke="#ccc" stroke-width="0.7"/>
<rect x="511.50" y="348.34" width="10.10" height="58.76" fill="#6b207e"/>
<rect x="511.50" y="361.90" width="10.10" height="45.20" fill="#0d6397"/>
<rect x="511.50" y="370.94" width="10.10" height="36.16" fill="#0865a6"/>
<text x="518.85" y="410.60" font-size="6.45" fill="#2a2a2a" stroke="#2a2a2a" stroke-width="0.18" text-anchor="end" font-weight="normal" transform="rotate(-90 518.85 410.60)">10 AM</text>
<line x1="509.90" y1="407.10" x2="509.90" y2="409.30" stroke="#ccc" stroke-width="0.7"/>
<rect x="524.84" y="316.70" width="10.10" height="90.40" fill="#6b207e"/>
<rect x="524.84" y="334.78" width="10.10" height="72.32" fill="#0d6397"/>
<rect x="524.84" y="352.86" width="10.10" height="54.24" fill="#0865a6"/>
<text x="532.19" y="410.60" font-size="6.45" fill="#2a2a2a" stroke="#2a2a2a" stroke-width="0.18" text-anchor="end" font-weight="normal" transform="rotate(-90 532.19 410.60)">11 AM</text>
<line x1="523.24" y1="407.10" x2="523.24" y2="409.30" stroke="#ccc" stroke-width="0.7"/>
<rect x="538.18" y="343.82" width="10.10" height="63.28" fill="#0d6397"/>
<rect x="538.18" y="357.38" width="10.10" height="49.72" fill="#0865a6"/>
<text x="545.53" y="410.60" font-size="6.45" fill="#2a2a2a" stroke="#2a2a2a" stroke-width="0.18" text-anchor="end" font-weight="normal" transform="rotate(-90 545.53 410.60)">12 PM</text>
<line x1="536.58" y1="407.10" x2="536.58" y2="409.30" stroke="#ccc" stroke-width="0.7"/>
<rect x="551.52" y="348.34" width="10.10" height="58.76" fill="#6b207e"/>
<rect x="551.52" y="370.94" width="10.10" height="36.16" fill="#0d6397"/>
<rect x="551.52" y="379.98" width="10.10" height="27.12" fill="#0865a6"/>
<text x="558.87" y="410.60" font-size="6.45" fill="#2a2a2a" stroke="#2a2a2a" stroke-width="0.18" text-anchor="end" font-weight="normal" transform="rotate(-90 558.87 410.60)">1 PM</text>
<line x1="549.92" y1="407.10" x2="549.92" y2="409.30" stroke="#ccc" stroke-width="0.7"/>
<rect x="564.86" y="343.82" width="10.10" height="63.28" fill="#6b207e"/>
<rect x="564.86" y="352.86" width="10.10" height="54.24" fill="#0d6397"/>
<rect x="564.86" y="357.38" width="10.10" height="49.72" fill="#0865a6"/>
<text x="572.21" y="410.60" font-size="6.45" fill="#2a2a2a" stroke="#2a2a2a" stroke-width="0.18" text-anchor="end" font-weight="normal" transform="rotate(-90 572.21 410.60)">2 PM</text>
<line x1="563.26" y1="407.10" x2="563.26" y2="409.30" stroke="#ccc" stroke-width="0.7"/>
<rect x="578.20" y="343.82" width="10.10" height="63.28" fill="#6b207e"/>
<rect x="578.20" y="366.42" width="10.10" height="40.68" fill="#0d6397"/>
<rect x="578.20" y="379.98" width="10.10" height="27.12" fill="#0865a6"/>
<text x="585.55" y="410.60" font-size="6.45" fill="#2a2a2a" stroke="#2a2a2a" stroke-width="0.18" text-anchor="end" font-weight="normal" transform="rotate(-90 585.55 410.60)">3 PM</text>
<line x1="576.60" y1="407.10" x2="576.60" y2="409.30" stroke="#ccc" stroke-width="0.7"/>
<rect x="591.54" y="343.82" width="10.10" height="63.28" fill="#6b207e"/>
<rect x="591.54" y="352.86" width="10.10" height="54.24" fill="#0d6397"/>
<rect x="591.54" y="370.94" width="10.10" height="36.16" fill="#0865a6"/>
<text x="598.89" y="410.60" font-size="6.45" fill="#2a2a2a" stroke="#2a2a2a" stroke-width="0.18" text-anchor="end" font-weight="normal" transform="rotate(-90 598.89 410.60)">4 PM</text>
<line x1="589.94" y1="407.10" x2="589.94" y2="409.30" stroke="#ccc" stroke-width="0.7"/>
<rect x="604.88" y="348.34" width="10.10" height="58.76" fill="#6b207e"/>
<rect x="604.88" y="352.86" width="10.10" height="54.24" fill="#0d6397"/>
<rect x="604.88" y="361.90" width="10.10" height="45.20" fill="#0865a6"/>
<text x="612.23" y="410.60" font-size="6.45" fill="#2a2a2a" stroke="#2a2a2a" stroke-width="0.18" text-anchor="end" font-weight="normal" transform="rotate(-90 612.23 410.60)">5 PM</text>
<line x1="603.28" y1="407.10" x2="603.28" y2="409.30" stroke="#ccc" stroke-width="0.7"/>
<rect x="618.22" y="366.42" width="10.10" height="40.68" fill="#6b207e"/>
<rect x="618.22" y="375.46" width="10.10" height="31.64" fill="#0865a6"/>
<text x="625.57" y="410.60" font-size="6.45" fill="#2a2a2a" stroke="#2a2a2a" stroke-width="0.18" text-anchor="end" font-weight="normal" transform="rotate(-90 625.57 410.60)">6 PM</text>
<line x1="616.62" y1="407.10" x2="616.62" y2="409.30" stroke="#ccc" stroke-width="0.7"/>
<rect x="631.56" y="330.26" width="10.10" height="76.84" fill="#6b207e"/>
<rect x="631.56" y="339.30" width="10.10" height="67.80" fill="#0d6397"/>
<rect x="631.56" y="366.42" width="10.10" height="40.68" fill="#0865a6"/>
<text x="638.91" y="410.60" font-size="6.45" fill="#2a2a2a" stroke="#2a2a2a" stroke-width="0.18" text-anchor="end" font-weight="normal" transform="rotate(-90 638.91 410.60)">7 PM</text>
<line x1="629.96" y1="407.10" x2="629.96" y2="409.30" stroke="#ccc" stroke-width="0.7"/>
<rect x="644.90" y="343.82" width="10.10" height="63.28" fill="#6b207e"/>
<rect x="644.90" y="357.38" width="10.10" height="49.72" fill="#0d6397"/>
<rect x="644.90" y="366.42" width="10.10" height="40.68" fill="#0865a6"/>
<text x="652.25" y="410.60" font-size="6.45" fill="#2a2a2a" stroke="#2a2a2a" stroke-width="0.18" text-anchor="end" font-weight="normal" transform="rotate(-90 652.25 410.60)">8 PM</text>
<line x1="643.30" y1="407.10" x2="643.30" y2="409.30" stroke="#ccc" stroke-width="0.7"/>
<rect x="658.24" y="379.98" width="10.10" height="27.12" fill="#6b207e"/>
<rect x="658.24" y="389.02" width="10.10" height="18.08" fill="#0865a6"/>
<text x="665.59" y="410.60" font-size="6.45" fill="#2a2a2a" stroke="#2a2a2a" stroke-width="0.18" text-anchor="end" font-weight="normal" transform="rotate(-90 665.59 410.60)">9 PM</text>
<line x1="656.64" y1="407.10" x2="656.64" y2="409.30" stroke="#ccc" stroke-width="0.7"/>
<rect x="671.58" y="389.02" width="10.10" height="18.08" fill="#6b207e"/>
<rect x="671.58" y="393.54" width="10.10" height="13.56" fill="#0865a6"/>
<text x="678.93" y="410.60" font-size="6.45" fill="#2a2a2a" stroke="#2a2a2a" stroke-width="0.18" text-anchor="end" font-weight="normal" transform="rotate(-90 678.93 410.60)">10 PM</text>
<line x1="669.98" y1="407.10" x2="669.98" y2="409.30" stroke="#ccc" stroke-width="0.7"/>
<rect x="684.92" y="366.42" width="10.10" height="40.68" fill="#0d6397"/>
<rect x="684.92" y="368.68" width="10.10" height="38.42" fill="#0865a6"/>
<text x="692.27" y="410.60" font-size="6.45" fill="#2a2a2a" stroke="#2a2a2a" stroke-width="0.18" text-anchor="end" font-weight="normal" transform="rotate(-90 692.27 410.60)">11 PM</text>
<line x1="683.32" y1="407.10" x2="683.32" y2="409.30" stroke="#ccc" stroke-width="0.7"/>
<text x="372.60" y="404.80" font-size="6.4" fill="#222" stroke="#222" stroke-width="0.18" text-anchor="end" font-weight="normal">0</text>
<text x="364.40" y="361.00" font-size="6.3" fill="#333" stroke="#333" stroke-width="0.18" text-anchor="middle" font-weight="normal" transform="rotate(-90 364.40 361.00)">Visits</text>
</svg>
</div></body></html>
